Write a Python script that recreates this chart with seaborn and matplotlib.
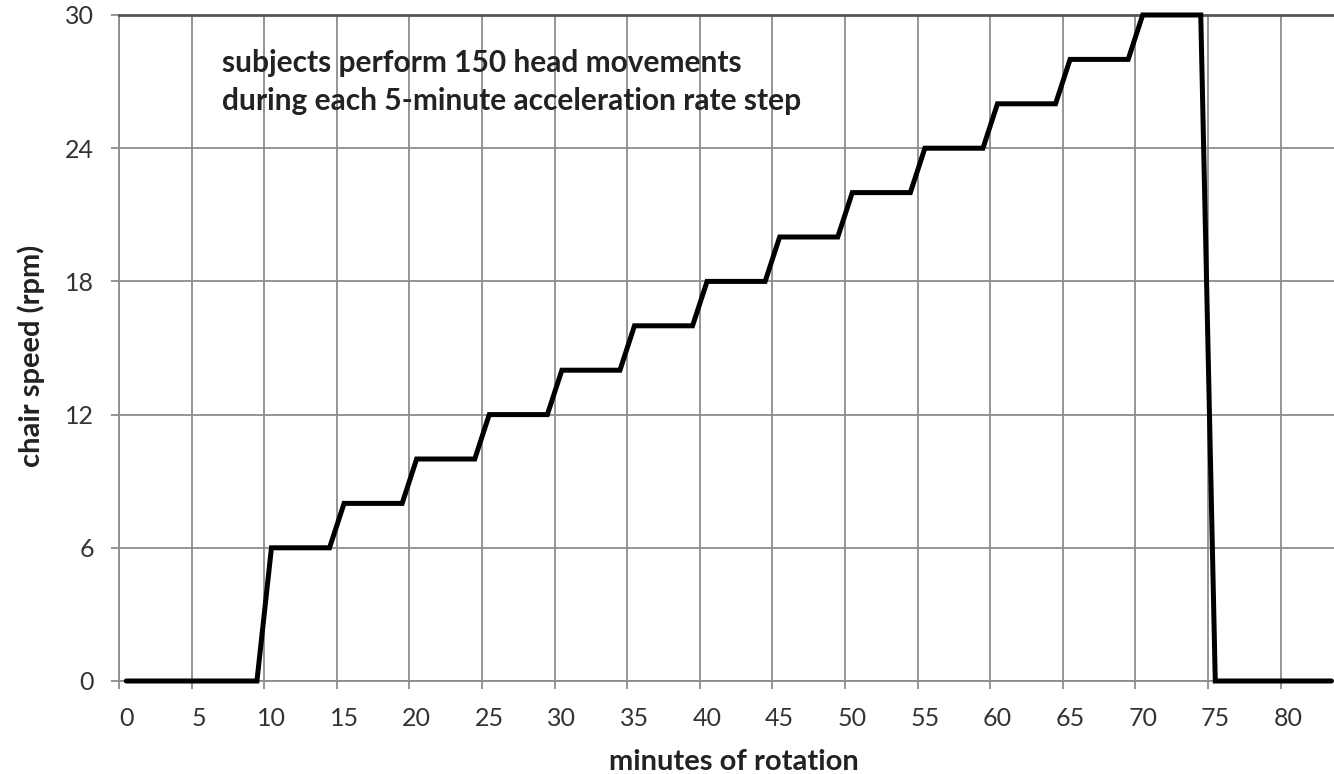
import matplotlib
matplotlib.use("Agg")
import matplotlib.pyplot as plt
import seaborn as sns
import pandas as pd

# minute index (category) and chair speed in rpm
minutes = list(range(84))
speed_rpm = [0, 0, 0, 0, 0, 0, 0, 0, 0, 0,
             6, 6, 6, 6, 6,
             8, 8, 8, 8, 8,
             10, 10, 10, 10, 10,
             12, 12, 12, 12, 12,
             14, 14, 14, 14, 14,
             16, 16, 16, 16, 16,
             18, 18, 18, 18, 18,
             20, 20, 20, 20, 20,
             22, 22, 22, 22, 22,
             24, 24, 24, 24, 24,
             26, 26, 26, 26, 26,
             28, 28, 28, 28, 28,
             30, 30, 30, 30, 30,
             0, 0, 0, 0, 0, 0, 0, 0, 0]
x_tick_labels = ["0", "5", "10", "15", "20", "25", "30", "35", "40",
                 "45", "50", "55", "60", "65", "70", "75", "80"]
y_ticks = [0, 6, 12, 18, 24, 30]
annotation = "subjects perform 150 head movements\nduring each 5-minute acceleration rate step"
x_label = "minutes of rotation"
y_label = "chair speed (rpm)"

sns.set_theme(style="white")
plt.rcParams['font.family'] = ['Lato', 'DejaVu Sans']

W, H = 1334, 774
fig = plt.figure(figsize=(W / 100, H / 100), dpi=100)
left, right, top, bottom = 119, 1338.7, 15, 681
aw, ah = right - left, bottom - top
ax = fig.add_axes([left / W, (H - bottom) / H, aw / W, ah / H])

df = pd.DataFrame({"pos": [m + 0.5 for m in minutes], "speed": speed_rpm})
sns.lineplot(data=df, x="pos", y="speed", ax=ax, color="black", linewidth=3.6,
             solid_joinstyle="miter", clip_on=False, zorder=5)

ax.set_xlim(0, len(minutes))
ax.set_ylim(0, 30)

grid_pos = [i * 5 for i in range(len(x_tick_labels))]
ax.set_xticks(grid_pos)
ax.set_xticklabels([""] * len(grid_pos))
ax.set_xticks([p + 0.5 for p in grid_pos], minor=True)
ax.set_xticklabels(x_tick_labels, minor=True)
ax.set_yticks(y_ticks)
ax.set_yticklabels([str(v) for v in y_ticks])

ax.grid(True, which="major", color="#8c8c8c", linewidth=1.3)
ax.set_axisbelow(True)
ax.tick_params(axis="x", which="major", length=6, width=1.3, color="#8c8c8c", direction="out", bottom=True)
ax.tick_params(axis="x", which="minor", length=0, labelsize=18, labelcolor="#333333", pad=19)
ax.tick_params(axis="y", which="major", length=6, width=1.3, color="#8c8c8c", direction="out", left=True,
               labelsize=18, labelcolor="#333333", pad=12)

for s in ["left", "bottom"]:
    ax.spines[s].set_color("#8c8c8c")
    ax.spines[s].set_linewidth(1.3)
ax.spines["top"].set_color("#555555")
ax.spines["top"].set_linewidth(2.0)
ax.spines["right"].set_visible(False)

ax.set_xlabel(x_label, fontsize=21, fontweight="bold", color="#222222", va="center", ha="center")
ax.xaxis.set_label_coords((734 - left) / aw, -(762 - bottom) / ah)
ax.set_ylabel(y_label, fontsize=21, fontweight="bold", color="#222222", va="center", ha="center")
ax.yaxis.set_label_coords((31 - left) / aw, (bottom - 356) / ah)

ax.text(222 / W, 1 - 82 / H, annotation, transform=fig.transFigure, fontsize=21.5,
        fontweight="bold", color="#222222", va="center", ha="left", linespacing=1.4)

fig.savefig("out.png", dpi=100)
